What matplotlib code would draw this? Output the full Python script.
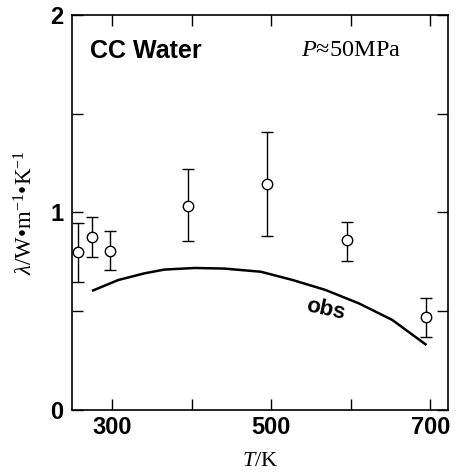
import matplotlib
matplotlib.use("Agg")
import matplotlib.pyplot as plt

plt.rcParams['mathtext.fontset'] = 'custom'
plt.rcParams['mathtext.rm'] = 'Liberation Serif'
plt.rcParams['mathtext.it'] = 'Liberation Serif:italic'

# CC Water data points with error bars
T_pts = [257, 275, 298, 396, 495, 595, 695]
lam_pts = [0.798, 0.874, 0.807, 1.033, 1.143, 0.859, 0.469]
err_hi = [0.948, 0.976, 0.908, 1.219, 1.409, 0.953, 0.569]
err_lo = [0.650, 0.776, 0.709, 0.856, 0.881, 0.756, 0.371]

# observed curve
T_obs = [275, 308, 341, 366, 404, 441, 487, 527, 568, 610, 652, 695]
lam_obs = [0.603, 0.658, 0.692, 0.711, 0.719, 0.716, 0.700, 0.658, 0.608, 0.540, 0.456, 0.329]

x_ticks = [300, 400, 500, 600, 700]
x_labels = ['300', '', '500', '', '700']
y_ticks = [0, 0.5, 1, 1.5, 2]
y_labels = ['0', '', '1', '', '2']

fig = plt.figure(figsize=(4.59, 4.76), dpi=100)
ax = fig.add_axes([0.157, 0.1387, 0.819, 0.8298])

ax.plot(T_obs, lam_obs, color='black', lw=1.8, solid_capstyle='butt', solid_joinstyle='round')
yerr = [[l - lo for l, lo in zip(lam_pts, err_lo)], [hi - l for l, hi in zip(lam_pts, err_hi)]]
ax.errorbar(T_pts, lam_pts, yerr=yerr, fmt='o', mfc='white', mec='black', mew=1.0,
            ms=7.5, ecolor='black', elinewidth=1.0, capsize=4, capthick=1.0, zorder=3)

ax.set_xlim(250, 722)
ax.set_ylim(0, 2)
ax.set_xticks(x_ticks)
ax.set_xticklabels(x_labels)
ax.set_yticks(y_ticks)
ax.set_yticklabels(y_labels)
ax.tick_params(direction='in', length=8, width=1.0, top=True, right=True)
ax.tick_params(axis='x', pad=4)
ax.tick_params(axis='y', pad=6)
for lab in ax.get_xticklabels() + ax.get_yticklabels():
    lab.set_fontfamily('Liberation Sans')
    lab.set_fontweight('bold')
    lab.set_fontsize(17)
for s in ax.spines.values():
    s.set_linewidth(1.2)

ax.text(0.048, 0.91, 'CC Water', transform=ax.transAxes, fontsize=18, fontweight='bold',
        family='Liberation Sans', va='center', ha='left')
ax.text(0.61, 0.91, r'$P$≈50MPa', transform=ax.transAxes, fontsize=17.5,
        family='Liberation Serif', va='center', ha='left')
ax.text(568, 0.506, 'obs', fontsize=16, fontweight='bold', family='Liberation Sans',
        rotation=-12, ha='center', va='center')

ax.set_xlabel(r'$T$/K', fontsize=16, family='Liberation Serif', labelpad=10)
ax.set_ylabel(r'$\lambda$/W•m$^{-1}$•K$^{-1}$', fontsize=16.5,
              family='Liberation Serif', labelpad=9)

fig.savefig('out.png', dpi=100)
